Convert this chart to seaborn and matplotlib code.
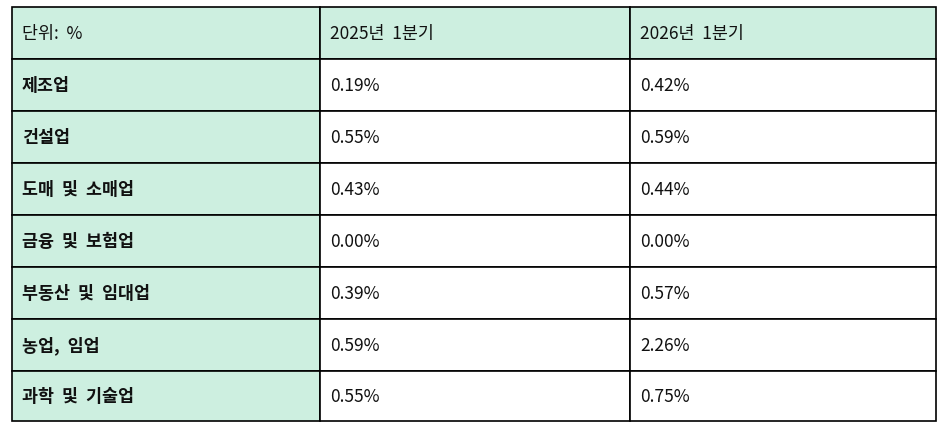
import matplotlib
matplotlib.use("Agg")
import matplotlib.pyplot as plt
import seaborn as sns
from matplotlib.patches import Rectangle

sns.set_style("white")
plt.rcParams["font.family"] = ["Noto Sans CJK KR", "DejaVu Sans"]

header = ["단위:  %", "2025년  1분기", "2026년  1분기"]
industries = ["제조업", "건설업", "도매  및  소매업", "금융  및  보험업",
              "부동산  및  임대업", "농업,  임업", "과학  및  기술업"]
q1_2025 = [0.19, 0.55, 0.43, 0.00, 0.39, 0.59, 0.55]
q1_2026 = [0.42, 0.59, 0.44, 0.00, 0.57, 2.26, 0.75]

mint = "#CDEFE0"
col_x = [12, 320, 630, 936]
row_y = [8, 60, 112, 164, 216, 268, 320, 372, 422]

fig = plt.figure(figsize=(9.38, 4.31), dpi=100)
ax = fig.add_axes([0, 0, 1, 1])
ax.set_xlim(0, 938)
ax.set_ylim(431, 0)
ax.axis("off")

rows = [header] + [[n, f"{a:.2f}%", f"{b:.2f}%"] for n, a, b in zip(industries, q1_2025, q1_2026)]
for r, row in enumerate(rows):
    for c, txt in enumerate(row):
        x0, x1 = col_x[c], col_x[c + 1]
        y0, y1 = row_y[r], row_y[r + 1]
        fc = mint if (r == 0 or c == 0) else "white"
        ax.add_patch(Rectangle((x0, y0), x1 - x0, y1 - y0, facecolor=fc,
                               edgecolor="black", linewidth=1.2))
        bold = (c == 0 and r > 0)
        ax.text(x0 + 10, (y0 + y1) / 2, txt, ha="left", va="center",
                fontsize=12.5, color="#111111",
                fontweight="bold" if bold else "normal")

fig.savefig("out.png", dpi=100)
